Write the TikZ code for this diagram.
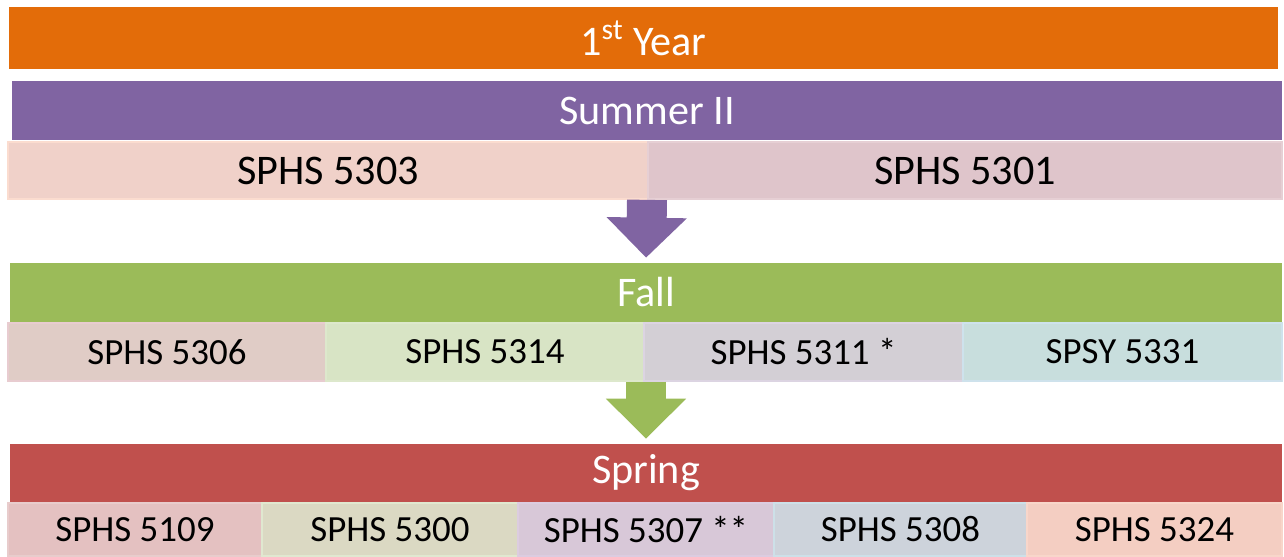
\documentclass[tikz,border=0pt]{standalone}
\usepackage{fontspec}
\setmainfont{Carlito}
\usetikzlibrary{arrows.meta}
\definecolor{yearorange}{HTML}{E36C09}
\definecolor{sumpurple}{HTML}{8064A2}
\definecolor{fallgreen}{HTML}{9BBB59}
\definecolor{sprred}{HTML}{C0504D}

\begin{document}
\begin{tikzpicture}[x=0.02cm,y=-0.02cm,
  bar/.style={inner sep=0,minimum width=25.44cm,minimum height=1.18cm,text=white,font=\fontsize{24}{28}\selectfont},
  course/.style={inner sep=0,line width=1pt,font=\fontsize{21}{25}\selectfont},
  flow/.style={line width=0.8cm,-{Triangle[width=1.56cm,length=0.8cm]},shorten >=0.1cm}]
\useasboundingbox (0,0) rectangle (1284,557) ;
\node (year) [bar,fill=yearorange,minimum width=25.38cm,minimum height=1.24cm] at (643.5,38) {1\textsuperscript{st} Year} ;
\node (summer) [bar,fill=sumpurple,minimum width=25.4cm] at (647,110.5) {Summer II} ;
\node (s5303) [course,fill={rgb,255:red,240;green,209;blue,201},draw={rgb,255:red,251;green,220;blue,207},minimum width=12.8cm,minimum height=1.14cm,font=\fontsize{24}{28}\selectfont] at (328,170.5) {SPHS 5303} ;
\node (s5301) [course,fill={rgb,255:red,223;green,197;blue,203},draw={rgb,255:red,230;green,207;blue,212},minimum width=12.68cm,minimum height=1.14cm,font=\fontsize{24}{28}\selectfont] at (965,170.5) {SPHS 5301} ;
\node (fall) [bar,fill=fallgreen] at (646,292.5) {Fall} ;
\node (s5306) [course,fill={rgb,255:red,224;green,204;blue,198},draw={rgb,255:red,232;green,204;blue,208},minimum width=6.36cm,minimum height=1.16cm] at (167,352) {SPHS 5306} ;
\node (s5314) [course,fill={rgb,255:red,216;green,228;blue,197},draw={rgb,255:red,221;green,232;blue,204},minimum width=6.36cm,minimum height=1.16cm] at (485,352) {SPHS 5314} ;
\node (s5311) [course,fill={rgb,255:red,211;green,207;blue,213},draw={rgb,255:red,220;green,212;blue,226},minimum width=6.38cm,minimum height=1.16cm] at (803.5,352) {SPHS 5311 *} ;
\node (y5331) [course,fill={rgb,255:red,200;green,222;blue,221},draw={rgb,255:red,206;green,226;blue,236},minimum width=6.38cm,minimum height=1.16cm] at (1122.5,352) {SPSY 5331} ;
\node (spring) [bar,fill=sprred,minimum height=1.16cm] at (646,473) {Spring} ;
\node (s5109) [course,fill={rgb,255:red,228;green,193;blue,193},draw={rgb,255:red,232;green,204;blue,204},minimum width=5.08cm,minimum height=1.06cm] at (135,529.5) {SPHS 5109} ;
\node (s5300) [course,fill={rgb,255:red,219;green,217;blue,195},draw={rgb,255:red,224;green,232;blue,208},minimum width=5.12cm,minimum height=1.06cm] at (390,529.5) {SPHS 5300} ;
\node (s5307) [course,fill={rgb,255:red,216;green,200;blue,216},draw={rgb,255:red,220;green,204;blue,224},minimum width=5.12cm,minimum height=1.06cm] at (646,529.5) {SPHS 5307 **} ;
\node (s5308) [course,fill={rgb,255:red,205;green,211;blue,219},draw={rgb,255:red,205;green,224;blue,232},minimum width=5.06cm,minimum height=1.06cm] at (900.5,529.5) {SPHS 5308} ;
\node (s5324) [course,fill={rgb,255:red,244;green,206;blue,194},draw={rgb,255:red,248;green,214;blue,202},minimum width=5.1cm,minimum height=1.06cm] at (1154.5,529.5) {SPHS 5324} ;
\draw [flow,sumpurple] (s5303.south -| summer.south) to (fall.north) ;
\draw [flow,fallgreen] (s5314.south -| fall.south) to (spring.north) ;
\end{tikzpicture}
\end{document}
